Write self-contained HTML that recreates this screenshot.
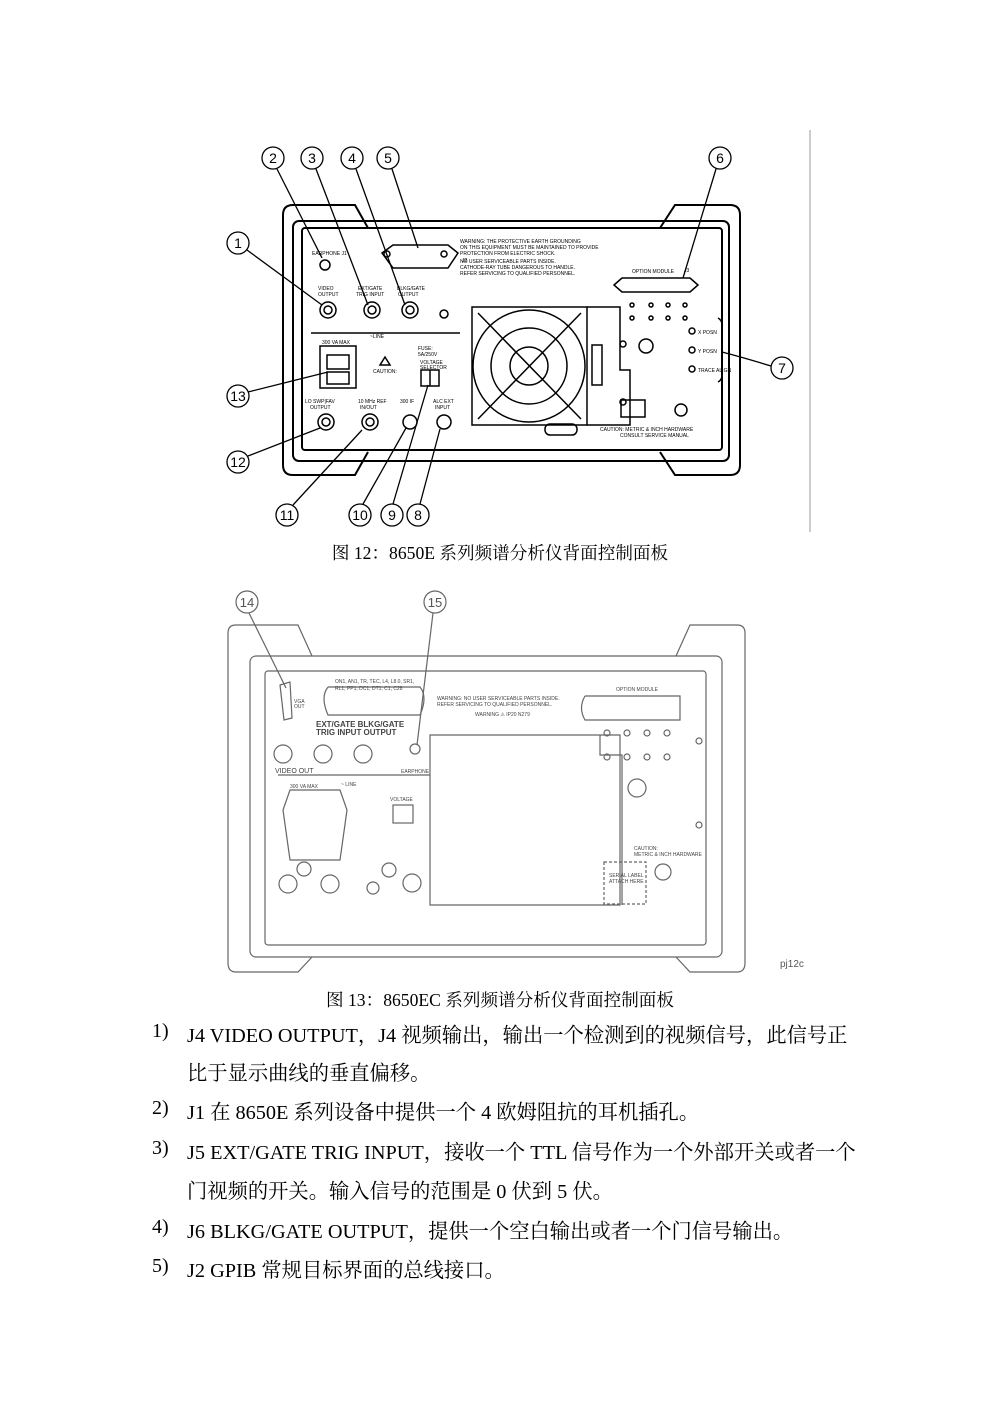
<!DOCTYPE html>
<html><head><meta charset="utf-8"><style>
body{margin:0;background:#fff;width:1000px;height:1415px;position:relative;overflow:hidden;font-family:"Liberation Serif","Noto Serif CJK SC",serif}
.cap{position:absolute;left:0;width:1000px;text-align:center;font-size:17.6px;color:#000}
.ln{position:absolute;font-size:20.3px;color:#000;white-space:nowrap}
.n{position:absolute;left:152px;font-size:20px}
svg text{font-family:"Liberation Sans",sans-serif}
</style></head><body>
<svg width="1000" height="1000" style="position:absolute;left:0;top:0" fill="none" stroke="#000">
<line x1="810" y1="130" x2="810" y2="532" stroke="#ccc" stroke-width="2"/>
<g stroke-width="2">
<path d="M283 215 Q283 205 293 205 L355 205 L368 228 M283 215 L283 465 Q283 475 293 475 L355 475 L368 452 M740 215 Q740 205 730 205 L675 205 L660 228 M740 215 L740 465 Q740 475 730 475 L675 475 L660 452"/>
<rect x="293" y="221" width="436" height="240" rx="6"/>
<rect x="302" y="228" width="420" height="222" rx="3"/>
</g>
<g stroke-width="1.5">
<circle cx="325" cy="265" r="5"/>
<path d="M382 253 L393 245 L448 245 L458 253 L448 268 L393 268 Z"/><circle cx="387" cy="254" r="3"/><circle cx="444" cy="254" r="3"/>
<path d="M614 285 L622 278 L690 278 L698 285 L690 292 L622 292 Z"/>
<circle cx="328" cy="310" r="8"/><circle cx="328" cy="310" r="4"/>
<circle cx="372" cy="310" r="8"/><circle cx="372" cy="310" r="4"/>
<circle cx="410" cy="310" r="8"/><circle cx="410" cy="310" r="4"/>
<circle cx="444" cy="314" r="4"/>
<line x1="311" y1="333" x2="460" y2="333"/>
<rect x="320" y="346" width="36" height="42"/><rect x="327" y="355" width="22" height="14"/><rect x="327" y="372" width="22" height="12"/>
<path d="M380 365 L385 357 L390 365 Z"/>
<rect x="421" y="370" width="18" height="16"/><line x1="430" y1="370" x2="430" y2="386"/>
<rect x="472" y="307" width="115" height="118"/>
<circle cx="529" cy="366" r="56"/><circle cx="529" cy="366" r="38"/><circle cx="529" cy="366" r="19"/>
<line x1="478" y1="313" x2="581" y2="419"/><line x1="581" y1="313" x2="478" y2="419"/>
<path d="M587 307 L620 307 L620 370 L630 370 L630 425 L587 425"/>
<rect x="592" y="345" width="10" height="40"/>
<circle cx="623" cy="344" r="3"/><circle cx="623" cy="402" r="3"/>
<g><circle cx="632" cy="305" r="2"/><circle cx="651" cy="305" r="2"/><circle cx="668" cy="305" r="2"/><circle cx="685" cy="305" r="2"/>
<circle cx="632" cy="318" r="2"/><circle cx="651" cy="318" r="2"/><circle cx="668" cy="318" r="2"/><circle cx="685" cy="318" r="2"/></g>
<circle cx="646" cy="346" r="7"/>
<circle cx="692" cy="331" r="3"/><circle cx="692" cy="350" r="3"/><circle cx="692" cy="369" r="3"/>
<path d="M718 318 Q722 320 722 325 L722 375 Q722 380 718 382"/>
<rect x="621" y="400" width="24" height="17"/><circle cx="681" cy="410" r="6"/>
<rect x="545" y="424" width="32" height="11" rx="5"/>
<circle cx="326" cy="422" r="8"/><circle cx="326" cy="422" r="4"/>
<circle cx="370" cy="422" r="8"/><circle cx="370" cy="422" r="4"/>
<circle cx="410" cy="422" r="7"/><circle cx="444" cy="422" r="7"/>
</g>
<g fill="#000" stroke="none" font-size="5">
<text x="312" y="255">EARPHONE J1</text><text x="318" y="290">VIDEO</text><text x="318" y="296">OUTPUT</text>
<text x="358" y="290">EXT/GATE</text><text x="356" y="296">TRIG INPUT</text><text x="397" y="290">BLKG/GATE</text><text x="398" y="296">OUTPUT</text>
<text x="460" y="243">WARNING: THE PROTECTIVE EARTH GROUNDING</text><text x="460" y="249">ON THIS EQUIPMENT MUST BE MAINTAINED TO PROVIDE</text><text x="460" y="255">PROTECTION FROM ELECTRIC SHOCK.</text>
<text x="460" y="263">NO USER SERVICEABLE PARTS INSIDE.</text><text x="460" y="269">CATHODE-RAY TUBE DANGEROUS TO HANDLE.</text><text x="460" y="275">REFER SERVICING TO QUALIFIED PERSONNEL.</text>
<text x="632" y="273">OPTION MODULE</text><text x="684" y="272">J3</text><text x="462" y="262">J2</text>
<text x="370" y="338">~LINE</text><text x="322" y="344">300 VA MAX</text><text x="373" y="373">CAUTION:</text>
<text x="418" y="350">FUSE:</text><text x="418" y="356">5A/250V</text><text x="420" y="364">VOLTAGE</text><text x="420" y="369">SELECTOR</text>
<text x="305" y="403">LO SWP|FAV</text><text x="310" y="409">OUTPUT</text><text x="358" y="403">10 MHz REF</text><text x="360" y="409">IN/OUT</text>
<text x="400" y="403">300 IF</text><text x="433" y="403">ALC EXT</text><text x="435" y="409">INPUT</text>
<text x="600" y="431">CAUTION: METRIC &amp; INCH HARDWARE</text><text x="620" y="437">CONSULT SERVICE MANUAL</text>
<text x="698" y="334">X POSN</text><text x="698" y="353">Y POSN</text><text x="698" y="372">TRACE ALIGN</text>
</g>
<g stroke-width="1.3">
<circle cx="238" cy="243" r="11"/><circle cx="273" cy="158" r="11"/><circle cx="312" cy="158" r="11"/><circle cx="352" cy="158" r="11"/><circle cx="388" cy="158" r="11"/><circle cx="720" cy="158" r="11"/><circle cx="782" cy="368" r="11"/><circle cx="238" cy="396" r="11"/><circle cx="238" cy="462" r="11"/><circle cx="287" cy="515" r="11"/><circle cx="360" cy="515" r="11"/><circle cx="392" cy="515" r="11"/><circle cx="418" cy="515" r="11"/>
<line x1="247" y1="250" x2="322" y2="305"/><line x1="277" y1="169" x2="322" y2="258"/><line x1="316" y1="169" x2="368" y2="305"/><line x1="356" y1="169" x2="405" y2="305"/><line x1="392" y1="169" x2="418" y2="248"/><line x1="716" y1="169" x2="683" y2="278"/><path d="M771 366 Q745 358 722 352"/>
<line x1="248" y1="392" x2="328" y2="372"/><line x1="248" y1="456" x2="320" y2="428"/><line x1="293" y1="505" x2="362" y2="430"/><line x1="363" y1="504" x2="406" y2="428"/><line x1="393" y1="504" x2="428" y2="385"/><line x1="420" y1="504" x2="440" y2="429"/>
</g>
<g fill="#000" stroke="none" font-size="14" text-anchor="middle">
<text x="238" y="248">1</text><text x="273" y="163">2</text><text x="312" y="163">3</text><text x="352" y="163">4</text><text x="388" y="163">5</text><text x="720" y="163">6</text><text x="782" y="373">7</text><text x="238" y="401">13</text><text x="238" y="467">12</text><text x="287" y="520">11</text><text x="360" y="520">10</text><text x="392" y="520">9</text><text x="418" y="520">8</text>
</g>
<g stroke="#666" stroke-width="1.2">
<path d="M236 625 L298 625 L312 656 M228 633 Q228 625 236 625 M228 633 L228 963 Q228 972 236 972 L298 972 L312 957 M737 625 L690 625 L676 656 M745 633 Q745 625 737 625 M745 633 L745 963 Q745 972 737 972 L690 972 L676 957"/>
<rect x="250" y="656" width="472" height="301" rx="6"/>
<rect x="265" y="671" width="441" height="274" rx="3"/>
<path d="M430 735 L620 735 L620 905 L430 905 Z"/>
<path d="M600 735 L600 755 L622 755 L622 905"/>
<path d="M280 685 L290 682 L292 718 L284 720 Z"/>
<path d="M328 687 L420 687 Q428 697 420 715 L328 715 Q320 697 328 687"/>
<path d="M585 696 L680 696 L680 720 L585 720 Q578 708 585 696"/>
<circle cx="283" cy="754" r="9"/><circle cx="323" cy="754" r="9"/><circle cx="363" cy="754" r="9"/><circle cx="415" cy="749" r="5"/>
<line x1="278" y1="775" x2="430" y2="775"/>
<path d="M283 810 L290 790 L340 790 L347 810 L340 860 L290 860 Z"/>
<rect x="393" y="805" width="20" height="18"/>
<circle cx="304" cy="869" r="7"/><circle cx="288" cy="884" r="9"/><circle cx="330" cy="884" r="9"/><circle cx="373" cy="888" r="6"/><circle cx="389" cy="870" r="7"/><circle cx="412" cy="883" r="9"/>
<g><circle cx="607" cy="733" r="3"/><circle cx="627" cy="733" r="3"/><circle cx="647" cy="733" r="3"/><circle cx="667" cy="733" r="3"/><circle cx="607" cy="757" r="3"/><circle cx="627" cy="757" r="3"/><circle cx="647" cy="757" r="3"/><circle cx="667" cy="757" r="3"/></g>
<circle cx="699" cy="741" r="3"/><circle cx="699" cy="825" r="3"/><circle cx="637" cy="788" r="9"/>
<rect x="604" y="862" width="42" height="42" stroke-dasharray="3,2"/><circle cx="663" cy="872" r="8"/>
<circle cx="247" cy="602" r="11"/><circle cx="435" cy="602" r="11"/>
<line x1="249" y1="613" x2="286" y2="688"/><line x1="433" y1="613" x2="417" y2="745"/>
</g>
<g fill="#444" stroke="none" font-size="5">
<text x="335" y="683">ON1, AN1, TR, TEC, L4, L8.0, SR1,</text><text x="335" y="690">RL1, PP1, DC1, DT1, C1, C28</text>
<text x="437" y="700">WARNING: NO USER SERVICEABLE PARTS INSIDE.</text><text x="437" y="706">REFER SERVICING TO QUALIFIED PERSONNEL.</text>
<text x="475" y="716">WARNING ⚠ IP20   N279</text><text x="616" y="691">OPTION MODULE</text><text x="294" y="703">VGA</text><text x="294" y="708">OUT</text>
<text x="275" y="773" font-size="7">VIDEO OUT</text><text x="401" y="773">EARPHONE</text><text x="341" y="786">~ LINE</text><text x="290" y="788">300 VA MAX</text>
<text x="390" y="801">VOLTAGE</text><text x="634" y="850">CAUTION:</text><text x="634" y="856">METRIC &amp; INCH HARDWARE</text>
<text x="609" y="877">SERIAL LABEL</text><text x="609" y="883">ATTACH HERE</text>
</g>
<g fill="#444" stroke="none" font-size="8" font-weight="bold"><text x="316" y="727">EXT/GATE BLKG/GATE</text><text x="316" y="735">TRIG INPUT  OUTPUT</text></g>
<g fill="#555" stroke="none" font-size="13" text-anchor="middle"><text x="247" y="607">14</text><text x="435" y="607">15</text></g>
<text x="780" y="967" fill="#555" stroke="none" font-size="10">pj12c</text>
</svg>
<div class="cap" style="top:540px">图 12：8650E 系列频谱分析仪背面控制面板</div>
<div class="cap" style="top:987px">图 13：8650EC 系列频谱分析仪背面控制面板</div>
<div class="n" style="top:1020px">1)</div><div class="ln" style="left:187px;top:1019px">J4 VIDEO OUTPUT，J4 视频输出，输出一个检测到的视频信号，此信号正</div>
<div class="ln" style="left:187px;top:1057px">比于显示曲线的垂直偏移。</div>
<div class="n" style="top:1097px">2)</div><div class="ln" style="left:187px;top:1096px">J1 在 8650E 系列设备中提供一个 4 欧姆阻抗的耳机插孔。</div>
<div class="n" style="top:1137px">3)</div><div class="ln" style="left:187px;top:1136px">J5 EXT/GATE TRIG INPUT，接收一个 TTL 信号作为一个外部开关或者一个</div>
<div class="ln" style="left:187px;top:1175px">门视频的开关。输入信号的范围是 0 伏到 5 伏。</div>
<div class="n" style="top:1216px">4)</div><div class="ln" style="left:187px;top:1215px">J6 BLKG/GATE OUTPUT，提供一个空白输出或者一个门信号输出。</div>
<div class="n" style="top:1255px">5)</div><div class="ln" style="left:187px;top:1254px">J2 GPIB 常规目标界面的总线接口。</div>
</body></html>
